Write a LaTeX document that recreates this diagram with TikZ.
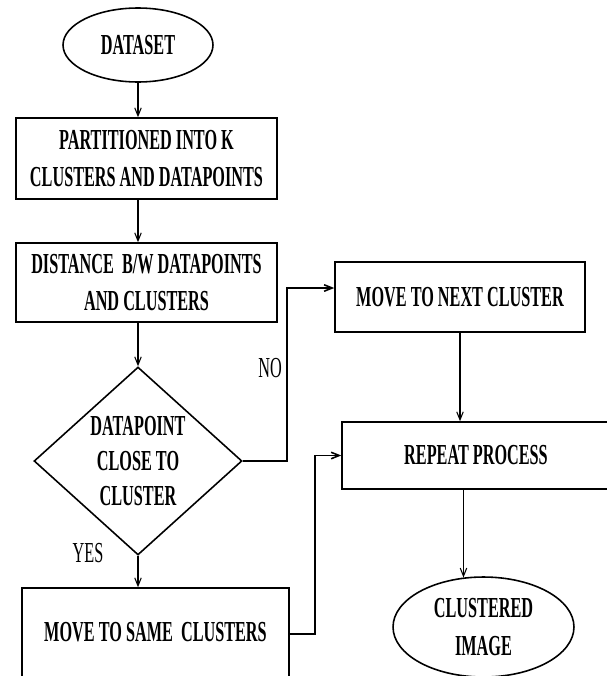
\documentclass[tikz,border=0pt]{standalone}
\usepackage{fontspec}
\setmainfont{Liberation Serif}[FakeStretch=0.56]
\usetikzlibrary{shapes.geometric,arrows.meta}
\begin{document}
\begin{tikzpicture}[x=0.02cm,y=-0.02cm,
  lbl/.style={font=\fontsize{16.5}{21.5}\selectfont\bfseries, align=center, text=black},
  boxnode/.style={lbl, draw, line width=0.9pt, inner sep=0pt},
  ellnode/.style={lbl, draw, ellipse, line width=0.9pt, inner sep=0pt},
  decnode/.style={lbl, draw, diamond, line width=0.9pt, inner sep=0pt},
  arr/.style={line width=0.6pt, -{Straight Barb[length=1.6mm,width=1.3mm]}},
  conn/.style={line width=0.9pt, -{Straight Barb[length=1.6mm,width=1.3mm]}}
]
\clip (0,0) rectangle (607,676);
\fill[white] (0,0) rectangle (607,676);

\node[ellnode, minimum width=3.0cm, minimum height=1.48cm] (ds) at (138,45) {DATASET};
\node[boxnode, minimum width=5.22cm, minimum height=1.62cm] (p1) at (146.5,158.5)
  {PARTITIONED INTO K\\CLUSTERS AND DATAPOINTS};
\node[boxnode, minimum width=5.22cm, minimum height=1.58cm] (p2) at (146.5,282.5)
  {DISTANCE \ B/W DATAPOINTS\\AND CLUSTERS};
\node[decnode, minimum width=4.16cm, minimum height=3.76cm, font=\fontsize{16.5}{20}\selectfont\bfseries] (dm) at (138,461)
  {DATAPOINT\\CLOSE TO\\CLUSTER};
\node[boxnode, minimum width=5.0cm, minimum height=1.4cm] (nx) at (460,297)
  {MOVE TO NEXT CLUSTER};
\node[boxnode, minimum width=5.36cm, minimum height=1.34cm] (rp) at (476,455.5)
  {REPEAT PROCESS};
\node[boxnode, minimum width=5.34cm, minimum height=1.84cm] (ms) at (155.5,634)
  {};
\node[lbl] (mst) at (155.5,632) {MOVE TO SAME \ CLUSTERS};
\node[ellnode, minimum width=3.62cm, minimum height=2.0cm] (ci) at (483.5,627)
  {CLUSTERED\\IMAGE};

\node[lbl, font=\fontsize{16.5}{21.5}\selectfont] (no) at (270,368) {NO};
\node[lbl, font=\fontsize{16.5}{21.5}\selectfont] (yes) at (88,553) {YES};

\coordinate (nobend) at (287,288);
\coordinate (msbend) at (315,455.5);

\draw[arr] (ds.south) -- (ds.south |- p1.north);
\draw[arr] (ds.south |- p1.south) -- (ds.south |- p2.north);
\draw[arr] (dm.north |- p2.south) -- (dm.north);
\draw[arr] (dm.south) -- (dm.south |- ms.north);
\draw[conn] (dm.east) -| (nobend) -- (nobend -| nx.west);
\draw[arr] (nx.south) -- (nx.south |- rp.north);
\draw[conn] (ms.east) -| (msbend) -- (rp.west);
\draw[arr] (rp.south -| ci.112) -- (ci.112);
\end{tikzpicture}
\end{document}
